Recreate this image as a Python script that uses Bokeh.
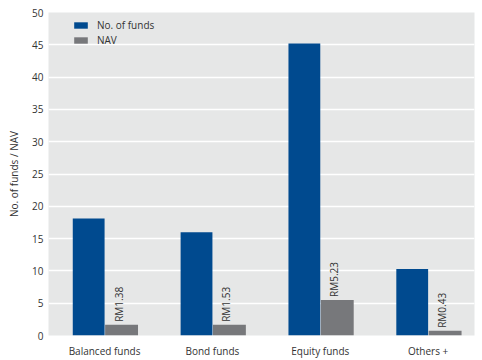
from bokeh.plotting import figure
from bokeh.models import ColumnDataSource, FixedTicker, Range1d, Legend, LegendItem
from bokeh.core.properties import value
from bokeh.embed import file_html
from bokeh.resources import INLINE
import math

categories = ["Balanced funds", "Bond funds", "Equity funds", "Others +"]
no_of_funds = [18.1, 16.0, 45.2, 10.3]
nav_bar = [1.65, 1.65, 5.5, 0.72]
nav_labels = ["RM1.38", "RM1.53", "RM5.23", "RM0.43"]
y_ticks = [0, 5, 10, 15, 20, 25, 30, 35, 40, 45, 50]

FONT = "Open Sans"
BLUE = "#004a8f"
GREY = "#77787b"
BG = "#e6e7e7"

xs = list(range(len(categories)))
bw = 0.295
src = ColumnDataSource(dict(
    x=xs,
    xb=[x - bw / 2 for x in xs],
    xg=[x + bw / 2 + 0.01 for x in xs],
    funds=no_of_funds,
    nav=nav_bar,
    lab=nav_labels,
))

p = figure(width=482, height=360, output_backend="svg", toolbar_location=None,
           x_range=Range1d(-0.52, 3.43), y_range=Range1d(0, 50),
           min_border_left=48, min_border_right=8, min_border_top=12, min_border_bottom=23)
p.background_fill_color = BG
p.border_fill_color = "white"
p.outline_line_color = None

rb = p.vbar(x="xb", top="funds", width=bw, source=src, fill_color=BLUE, line_color=None)
rg = p.vbar(x="xg", top="nav", width=bw + 0.01, source=src, fill_color=GREY, line_color=None)

p.text(x="xg", y="nav", text="lab", source=src, angle=math.pi / 2,
       text_align="left", text_baseline="middle", y_offset=-3, x_offset=-3,
       text_font=value(FONT), text_font_size="10px", text_color="#333333")

p.xgrid.grid_line_color = None
p.ygrid.grid_line_color = "white"
p.ygrid.grid_line_width = 1.5
p.ygrid.ticker = FixedTicker(ticks=y_ticks)

for ax in (p.xaxis, p.yaxis):
    ax.axis_line_color = None
    ax.major_tick_line_color = None
    ax.minor_tick_line_color = None
    ax.major_tick_out = 0
    ax.major_tick_in = 0
    ax.minor_tick_out = 0
    ax.minor_tick_in = 0
    ax.major_label_text_font = FONT
    ax.major_label_text_font_size = "10px"
    ax.major_label_text_color = "#333333"

p.yaxis.ticker = FixedTicker(ticks=y_ticks)
p.yaxis.major_label_standoff = 5
p.yaxis.axis_label = "No. of funds / NAV"
p.yaxis.axis_label_text_font = FONT
p.yaxis.axis_label_text_font_size = "10px"
p.yaxis.axis_label_text_font_style = "normal"
p.yaxis.axis_label_text_color = "#333333"
p.yaxis.axis_label_standoff = 8

p.xaxis.ticker = FixedTicker(ticks=xs)
p.xaxis.major_label_overrides = {i: c for i, c in enumerate(categories)}
p.xaxis.major_label_standoff = 8

legend = Legend(items=[LegendItem(label="No. of funds", renderers=[rb]),
                       LegendItem(label="NAV", renderers=[rg])],
                location=(24, 288), padding=0, margin=0, spacing=0,
                glyph_width=17, glyph_height=8, label_height=15, label_standoff=8,
                label_text_font=FONT, label_text_font_size="10px",
                label_text_color="#333333", background_fill_alpha=0,
                border_line_color=None)
p.add_layout(legend)

open("out.html", "w").write(file_html(p, INLINE))
